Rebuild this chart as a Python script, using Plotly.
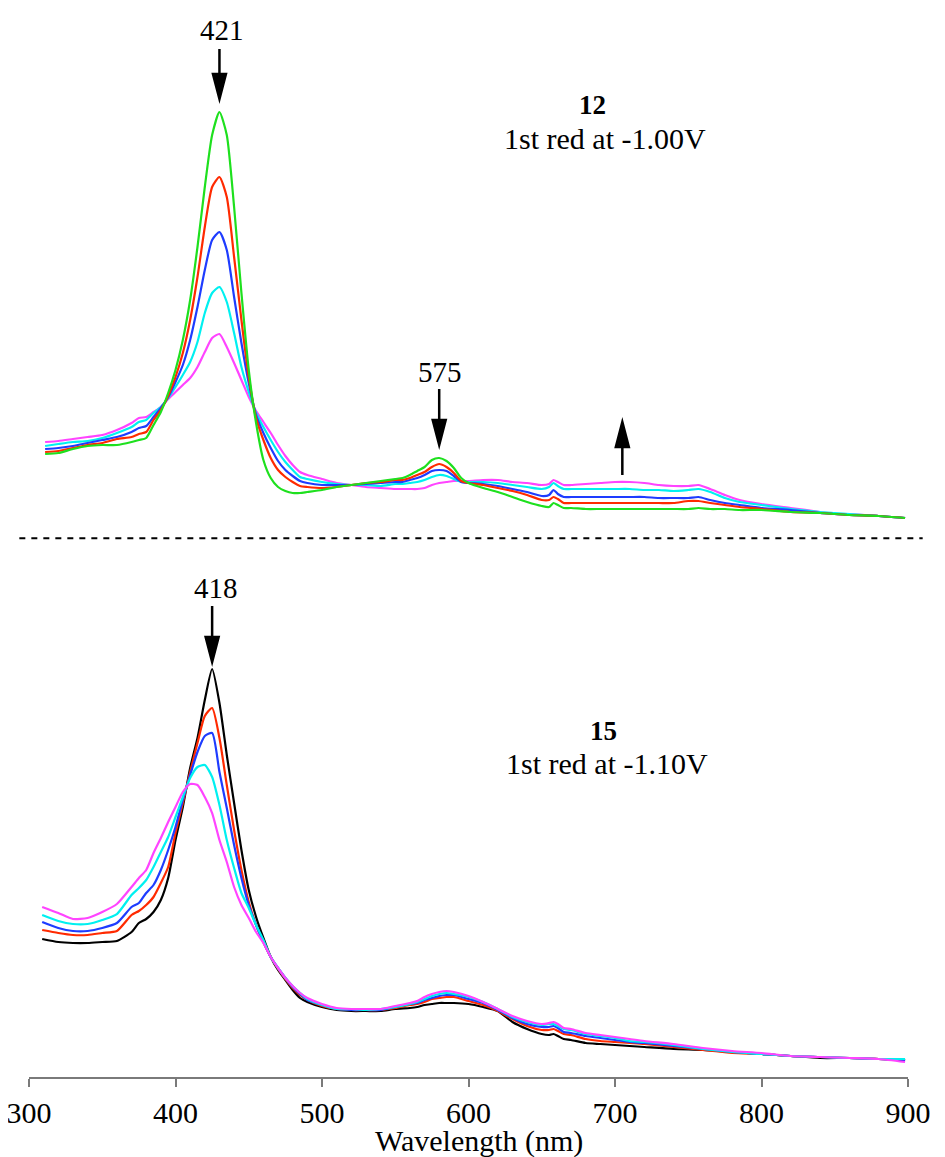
import numpy as np
import plotly.graph_objects as go

# ---------------- data (absorbance, arbitrary units) ----------------
wl_top = [311, 320, 330, 340, 350, 360, 370, 375, 380, 385,
          390, 395, 400, 405, 410, 415, 420, 425, 430, 435,
          440, 445, 450, 455, 460, 465, 470, 475, 480, 485,
          490, 500, 510, 520, 530, 540, 550, 555, 560, 565,
          570, 575, 580, 585, 590, 595, 600, 610, 620, 630,
          640, 650, 655, 658, 661, 665, 670, 680, 690, 700,
          710, 720, 730, 740, 750, 757, 765, 775, 785, 800,
          820, 840, 850, 860, 880, 898]

top_magenta = [0.088, 0.089, 0.091, 0.093, 0.095, 0.100, 0.107, 0.112, 0.113, 0.118,
               0.123, 0.131, 0.138, 0.145, 0.152, 0.163, 0.178, 0.192, 0.196, 0.183,
               0.167, 0.150, 0.133, 0.119, 0.108, 0.097, 0.085, 0.074, 0.065, 0.058,
               0.055, 0.051, 0.047, 0.045, 0.043, 0.042, 0.041, 0.041, 0.041, 0.041,
               0.042, 0.045, 0.047, 0.048, 0.049, 0.049, 0.049, 0.050, 0.050, 0.048,
               0.047, 0.045, 0.046, 0.050, 0.048, 0.045, 0.045, 0.046, 0.047, 0.048,
               0.048, 0.047, 0.045, 0.044, 0.044, 0.045, 0.041, 0.035, 0.030, 0.026,
               0.022, 0.018, 0.016, 0.016, 0.014, 0.012]
top_cyan = [0.084, 0.086, 0.088, 0.089, 0.092, 0.097, 0.103, 0.108, 0.110, 0.117,
            0.123, 0.132, 0.143, 0.155, 0.168, 0.188, 0.217, 0.237, 0.243, 0.228,
            0.197, 0.163, 0.138, 0.117, 0.103, 0.090, 0.078, 0.068, 0.060, 0.053,
            0.051, 0.048, 0.046, 0.045, 0.045, 0.044, 0.046, 0.046, 0.047, 0.048,
            0.050, 0.053, 0.055, 0.054, 0.051, 0.048, 0.048, 0.048, 0.047, 0.045,
            0.043, 0.041, 0.043, 0.047, 0.044, 0.041, 0.041, 0.041, 0.041, 0.041,
            0.041, 0.040, 0.040, 0.039, 0.040, 0.041, 0.038, 0.032, 0.028, 0.025,
            0.021, 0.018, 0.017, 0.016, 0.014, 0.012]
top_blue = [0.081, 0.082, 0.084, 0.087, 0.090, 0.093, 0.098, 0.102, 0.104, 0.113,
            0.122, 0.133, 0.148, 0.165, 0.190, 0.223, 0.260, 0.290, 0.298, 0.280,
            0.233, 0.187, 0.147, 0.115, 0.097, 0.082, 0.069, 0.060, 0.054, 0.049,
            0.047, 0.045, 0.045, 0.045, 0.046, 0.047, 0.048, 0.048, 0.050, 0.052,
            0.055, 0.059, 0.060, 0.059, 0.054, 0.048, 0.047, 0.046, 0.044, 0.041,
            0.038, 0.034, 0.035, 0.040, 0.036, 0.033, 0.033, 0.033, 0.033, 0.033,
            0.033, 0.033, 0.032, 0.032, 0.032, 0.033, 0.030, 0.027, 0.025, 0.022,
            0.020, 0.017, 0.016, 0.015, 0.014, 0.012]
top_red = [0.078, 0.079, 0.082, 0.085, 0.087, 0.091, 0.093, 0.096, 0.098, 0.110,
           0.120, 0.134, 0.153, 0.177, 0.210, 0.253, 0.303, 0.343, 0.353, 0.333,
           0.273, 0.210, 0.153, 0.112, 0.090, 0.072, 0.060, 0.053, 0.048, 0.044,
           0.043, 0.042, 0.043, 0.045, 0.047, 0.048, 0.050, 0.050, 0.052, 0.055,
           0.058, 0.063, 0.066, 0.063, 0.057, 0.049, 0.047, 0.045, 0.042, 0.039,
           0.035, 0.030, 0.030, 0.033, 0.031, 0.027, 0.027, 0.027, 0.027, 0.027,
           0.027, 0.027, 0.027, 0.027, 0.029, 0.029, 0.027, 0.025, 0.023, 0.021,
           0.018, 0.017, 0.016, 0.015, 0.014, 0.012]
top_green = [0.076, 0.077, 0.081, 0.084, 0.085, 0.085, 0.088, 0.090, 0.092, 0.105,
             0.118, 0.137, 0.160, 0.190, 0.230, 0.283, 0.343, 0.395, 0.418, 0.395,
             0.323, 0.237, 0.160, 0.107, 0.070, 0.052, 0.043, 0.039, 0.037, 0.037,
             0.038, 0.040, 0.043, 0.045, 0.047, 0.049, 0.051, 0.052, 0.055, 0.059,
             0.063, 0.070, 0.072, 0.069, 0.062, 0.052, 0.047, 0.042, 0.038, 0.033,
             0.028, 0.024, 0.023, 0.027, 0.025, 0.022, 0.022, 0.021, 0.021, 0.021,
             0.021, 0.021, 0.021, 0.021, 0.021, 0.022, 0.021, 0.021, 0.020, 0.020,
             0.018, 0.017, 0.016, 0.015, 0.014, 0.012]

wl_bot = [309, 320, 330, 340, 350, 360, 370, 375, 380, 385,
          390, 395, 400, 405, 410, 415, 420, 425, 430, 435,
          440, 445, 450, 455, 460, 465, 470, 475, 480, 485,
          490, 500, 510, 520, 530, 540, 550, 560, 565, 570,
          575, 580, 585, 590, 600, 610, 620, 630, 640, 650,
          655, 658, 661, 665, 670, 680, 690, 700, 710, 720,
          740, 760, 780, 800, 820, 840, 860, 880, 898]

bot_magenta = [0.170, 0.164, 0.158, 0.159, 0.165, 0.173, 0.190, 0.199, 0.207, 0.224,
               0.239, 0.255, 0.270, 0.285, 0.293, 0.292, 0.280, 0.264, 0.237, 0.215,
               0.190, 0.172, 0.159, 0.145, 0.134, 0.120, 0.109, 0.099, 0.091, 0.084,
               0.079, 0.073, 0.069, 0.068, 0.068, 0.068, 0.071, 0.074, 0.076, 0.080,
               0.083, 0.085, 0.086, 0.085, 0.081, 0.075, 0.068, 0.061, 0.056, 0.053,
               0.054, 0.055, 0.053, 0.049, 0.048, 0.044, 0.042, 0.040, 0.038, 0.036,
               0.033, 0.029, 0.026, 0.024, 0.021, 0.020, 0.019, 0.018, 0.015]
bot_cyan = [0.162, 0.156, 0.153, 0.153, 0.157, 0.163, 0.182, 0.189, 0.197, 0.210,
            0.225, 0.240, 0.260, 0.280, 0.299, 0.310, 0.312, 0.300, 0.272, 0.237,
            0.209, 0.184, 0.169, 0.152, 0.137, 0.120, 0.109, 0.099, 0.091, 0.084,
            0.078, 0.072, 0.068, 0.068, 0.067, 0.068, 0.070, 0.073, 0.075, 0.078,
            0.081, 0.083, 0.084, 0.083, 0.080, 0.075, 0.068, 0.060, 0.055, 0.052,
            0.053, 0.053, 0.051, 0.048, 0.047, 0.043, 0.041, 0.039, 0.036, 0.035,
            0.032, 0.028, 0.025, 0.023, 0.021, 0.020, 0.019, 0.018, 0.018]
bot_blue = [0.155, 0.149, 0.146, 0.146, 0.149, 0.154, 0.170, 0.174, 0.184, 0.192,
            0.207, 0.227, 0.250, 0.277, 0.302, 0.325, 0.341, 0.344, 0.305, 0.269,
            0.232, 0.199, 0.172, 0.152, 0.135, 0.120, 0.109, 0.099, 0.090, 0.083,
            0.077, 0.072, 0.068, 0.067, 0.067, 0.067, 0.070, 0.073, 0.074, 0.077,
            0.079, 0.081, 0.082, 0.082, 0.078, 0.074, 0.067, 0.059, 0.053, 0.050,
            0.050, 0.051, 0.049, 0.045, 0.044, 0.041, 0.039, 0.037, 0.035, 0.034,
            0.031, 0.028, 0.025, 0.023, 0.021, 0.020, 0.019, 0.018, 0.017]
bot_red = [0.147, 0.144, 0.142, 0.142, 0.144, 0.146, 0.162, 0.166, 0.172, 0.180,
           0.194, 0.210, 0.244, 0.274, 0.305, 0.334, 0.361, 0.369, 0.339, 0.292,
           0.247, 0.207, 0.175, 0.152, 0.135, 0.120, 0.108, 0.098, 0.089, 0.082,
           0.077, 0.071, 0.068, 0.067, 0.067, 0.067, 0.069, 0.072, 0.073, 0.075,
           0.078, 0.079, 0.080, 0.080, 0.076, 0.072, 0.066, 0.058, 0.051, 0.047,
           0.047, 0.048, 0.046, 0.043, 0.042, 0.038, 0.036, 0.035, 0.034, 0.033,
           0.030, 0.027, 0.024, 0.023, 0.021, 0.020, 0.019, 0.018, 0.017]
bot_black = [0.138, 0.135, 0.134, 0.134, 0.135, 0.136, 0.145, 0.154, 0.158, 0.165,
             0.177, 0.199, 0.237, 0.270, 0.309, 0.339, 0.377, 0.408, 0.374, 0.322,
             0.274, 0.227, 0.187, 0.160, 0.139, 0.120, 0.107, 0.097, 0.087, 0.079,
             0.075, 0.070, 0.067, 0.066, 0.066, 0.066, 0.068, 0.069, 0.070, 0.072,
             0.073, 0.074, 0.074, 0.074, 0.073, 0.070, 0.066, 0.055, 0.048, 0.043,
             0.042, 0.043, 0.041, 0.038, 0.037, 0.034, 0.033, 0.032, 0.031, 0.030,
             0.028, 0.027, 0.025, 0.023, 0.021, 0.019, 0.019, 0.018, 0.017]

tick_labels = [300, 400, 500, 600, 700, 800, 900]

# ---------------- styles ----------------
SERIF = "Liberation Serif"
C_MAG = "#ff44ff"
C_CYA = "#00f0f0"
C_BLU = "#1e3cff"
C_RED = "#ff2a00"
C_GRN = "#1ee01e"
C_BLK = "#000000"
LW = 2.2

# page shows the figure with an 8 px body margin; figure size compensates
FIG_W, FIG_H = 937, 1149
SPLIT = 0.50374  # panel boundary (paper fraction)

fig = go.Figure()

for ys, col in [(top_magenta, C_MAG), (top_cyan, C_CYA), (top_blue, C_BLU),
                (top_red, C_RED), (top_green, C_GRN)]:
    fig.add_trace(go.Scatter(x=wl_top, y=ys, mode="lines", xaxis="x", yaxis="y2",
                             line=dict(color=col, width=LW, shape="spline", smoothing=0.6),
                             showlegend=False, hoverinfo="skip"))

for ys, col in [(bot_black, C_BLK), (bot_red, C_RED), (bot_blue, C_BLU),
                (bot_cyan, C_CYA), (bot_magenta, C_MAG)]:
    fig.add_trace(go.Scatter(x=wl_bot, y=ys, mode="lines", xaxis="x", yaxis="y",
                             line=dict(color=col, width=LW, shape="spline", smoothing=0.6),
                             showlegend=False, hoverinfo="skip"))


def arrow_path(tip, tail, head_len=25, half_w=6.5):
    """Arrow in pixel units relative to its anchor (positive = up)."""
    if tip > tail:  # pointing up
        base = tip - head_len
        return (f"M0,{tip} L{-half_w},{base} L{half_w},{base} Z "
                f"M0,{base + 3} L0,{tail}")
    base = tip + head_len
    return (f"M0,{tip} L{-half_w},{base} L{half_w},{base} Z "
            f"M0,{base - 3} L0,{tail}")


shapes = []


def add_arrow(xa, ya, yref, tip, tail):
    shapes.append(dict(type="path", xref="x", yref=yref,
                       xsizemode="pixel", ysizemode="pixel",
                       xanchor=xa, yanchor=ya,
                       path=arrow_path(tip, tail),
                       line=dict(color="black", width=2.5),
                       fillcolor="black"))


wt = np.array(wl_top)
g = np.array(top_green)
i_pk = int(np.argmax(g))
add_arrow(wt[i_pk], g[i_pk], "y2", 13, 63)
mask = (wt > 550) & (wt < 620)
j = np.where(mask)[0][int(np.argmax(g[mask]))]
add_arrow(wt[j], g[j], "y2", 13, 69)
add_arrow(705, float(np.interp(705, wl_top, top_magenta)), "y2", 60, 7)
k = np.array(bot_black)
i_b = int(np.argmax(k))
add_arrow(wl_bot[i_b], k[i_b], "y", 7, 63)

shapes.append(dict(type="line", xref="paper", yref="paper",
                   x0=-0.011, x1=1.0167, y0=0.50393, y1=0.50393,
                   line=dict(color="black", width=2, dash="6px,6px")))

annotations = []


def txt(text, x, y, size, bold=False):
    annotations.append(dict(text=f"<b>{text}</b>" if bold else text,
                            x=x, y=y, xref="paper", yref="paper",
                            xanchor="center", yanchor="middle", showarrow=False,
                            font=dict(family=SERIF, size=size, color="black")))


txt("421", 0.2201, 0.97942, 29)
txt("575", 0.4676, 0.65949, 29)
txt("418", 0.2131, 0.45744, 29)
txt("12", 0.6413, 0.90926, 27, bold=True)
txt("1st red at -1.00V", 0.6553, 0.87839, 30)
txt("15", 0.6536, 0.32320, 27, bold=True)
txt("1st red at -1.10V", 0.6570, 0.29373, 30)
txt("Wavelength (nm)", 0.5122, -0.0600, 30)

fig.update_layout(
    width=FIG_W, height=FIG_H,
    margin=dict(l=21, r=37, t=0, b=80, autoexpand=False),
    paper_bgcolor="white", plot_bgcolor="white",
    showlegend=False,
    font=dict(family=SERIF),
    xaxis=dict(range=[300, 900], tickvals=tick_labels,
               ticktext=[str(t) for t in tick_labels],
               showgrid=False, zeroline=False, automargin=False,
               ticklabeloverflow="allow",
               showline=True, linecolor="#7a7a7a", linewidth=1.5,
               ticks="outside", ticklen=8, tickcolor="#7a7a7a", tickwidth=1.5,
               tickfont=dict(family=SERIF, size=30, color="black"),
               anchor="y", fixedrange=True),
    yaxis=dict(domain=[0, SPLIT], range=[0, 0.5385], visible=False, fixedrange=True),
    yaxis2=dict(domain=[SPLIT, 1], range=[-0.0085, 0.522], visible=False,
                anchor="x", fixedrange=True),
    shapes=shapes,
    annotations=annotations,
)

fig.write_html("out.html")
